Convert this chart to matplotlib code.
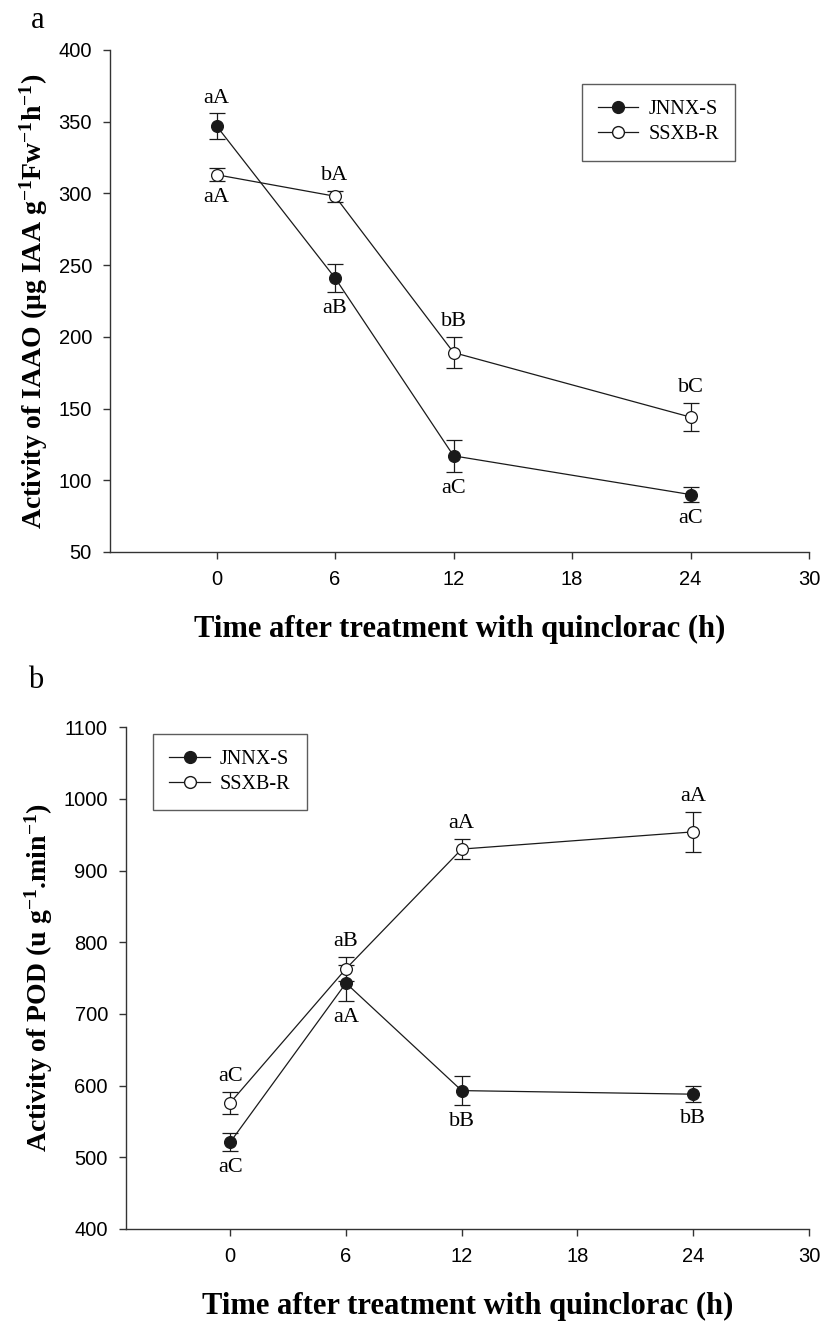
import matplotlib
matplotlib.use('Agg')
import matplotlib.pyplot as plt
from matplotlib.lines import Line2D
import numpy as np

plt.rcParams['mathtext.fontset'] = 'custom'
plt.rcParams['mathtext.rm'] = 'Liberation Serif:bold'
plt.rcParams['mathtext.default'] = 'rm'

# data
hours = [0, 6, 12, 24]
series_names = ['JNNX-S', 'SSXB-R']

iaao_s = [347, 241, 117, 90]
iaao_s_err = [9, 10, 11, 5.5]
iaao_r = [313, 298, 189, 144]
iaao_r_err = [4.5, 4, 11, 10]
iaao_s_lab = ['aA', 'aB', 'aC', 'aC']
iaao_r_lab = ['aA', 'bA', 'bB', 'bC']

pod_s = [521, 743, 593, 588]
pod_s_err = [12.5, 25, 20.5, 11]
pod_r = [576, 763, 930, 954]
pod_r_err = [15, 17, 14, 28]
pod_s_lab = ['aC', 'aA', 'bB', 'bB']
pod_r_lab = ['aC', 'aB', 'aA', 'aA']

xticks = [0, 6, 12, 18, 24, 30]

SERIF = 'Liberation Serif'
SANS = 'Liberation Sans'
LC = '#1a1a1a'


def draw_series(ax, y, err, filled, name):
    ax.errorbar(hours, y, yerr=err, color=LC, lw=0.9, elinewidth=0.9,
                capsize=5.5, capthick=0.9, marker='o', markersize=8.5,
                markerfacecolor=LC if filled else 'white',
                markeredgecolor=LC, markeredgewidth=0.9, zorder=3)


def label_points(ax, y, err, labels, side):
    for xi, yi, ei, t, s in zip(hours, y, err, labels, side):
        if s == 'up':
            ax.annotate(t, xy=(xi, yi + ei), xytext=(0, 4), textcoords='offset points',
                        ha='center', va='bottom', fontsize=16, family=SERIF)
        else:
            ax.annotate(t, xy=(xi, yi - ei), xytext=(0, -5), textcoords='offset points',
                        ha='center', va='top', fontsize=16, family=SERIF)


def add_legend(ax, loc, anchor):
    handles = [Line2D([], [], color=LC, lw=0.9, marker='o', markersize=8.5,
                      markerfacecolor=LC, markeredgecolor=LC),
               Line2D([], [], color=LC, lw=0.9, marker='o', markersize=8.5,
                      markerfacecolor='white', markeredgecolor=LC)]
    leg = ax.legend(handles, series_names, loc=loc, bbox_to_anchor=anchor, frameon=True,
                    fancybox=False, edgecolor='#333333', prop={'family': SERIF, 'size': 14.5},
                    handlelength=2.0, handletextpad=0.5, borderpad=0.8, labelspacing=0.3,
                    borderaxespad=0)
    leg.get_frame().set_linewidth(1.0)


def style_axes(ax, ylim, yticks):
    ax.set_xlim(-5.4, 30)
    ax.set_ylim(*ylim)
    ax.set_xticks(xticks)
    ax.set_yticks(yticks)
    for sp in ['top', 'right']:
        ax.spines[sp].set_visible(False)
    for sp in ['left', 'bottom']:
        ax.spines[sp].set_linewidth(1.0)
        ax.spines[sp].set_color('#333333')
    ax.tick_params(direction='out', length=5, width=1.0, color='#333333',
                   labelsize=14.5, pad=8)
    for lab in ax.get_xticklabels() + ax.get_yticklabels():
        lab.set_family(SANS)
    ax.set_xlabel('Time after treatment with quinclorac (h)', family=SERIF,
                  fontweight='bold', fontsize=22, labelpad=19)


fig = plt.figure(figsize=(8.22, 13.22), dpi=100)

# panel a
ax1 = fig.add_axes([0.1338, 0.5825, 0.8504, 0.3797])
draw_series(ax1, iaao_s, iaao_s_err, True, series_names[0])
draw_series(ax1, iaao_r, iaao_r_err, False, series_names[1])
label_points(ax1, iaao_s, iaao_s_err, iaao_s_lab, ['up', 'down', 'down', 'down'])
label_points(ax1, iaao_r, iaao_r_err, iaao_r_lab, ['down', 'up', 'up', 'up'])
style_axes(ax1, (50, 400), np.arange(50, 401, 50))
ax1.set_ylabel('Activity of IAAO (μg IAA g$^{-1}$Fw$^{-1}$h$^{-1}$)', family=SERIF,
               fontweight='bold', fontsize=20, labelpad=6)
add_legend(ax1, 'upper right', (0.894, 0.932))
fig.text(38 / 822, 1 - 20 / 1322, 'a', family=SERIF, fontsize=22, ha='center', va='center')

# panel b
ax2 = fig.add_axes([0.1533, 0.0704, 0.8309, 0.3795])
draw_series(ax2, pod_s, pod_s_err, True, series_names[0])
draw_series(ax2, pod_r, pod_r_err, False, series_names[1])
label_points(ax2, pod_s, pod_s_err, pod_s_lab, ['down', 'down', 'down', 'down'])
label_points(ax2, pod_r, pod_r_err, pod_r_lab, ['up', 'up', 'up', 'up'])
style_axes(ax2, (400, 1100), np.arange(400, 1101, 100))
ax2.set_ylabel('Activity of POD (u g$^{-1}$.min$^{-1}$)', family=SERIF,
               fontweight='bold', fontsize=20, labelpad=6)
add_legend(ax2, 'upper left', (0.04, 0.9866))
fig.text(36 / 822, 1 - 680 / 1322, 'b', family=SERIF, fontsize=22, ha='center', va='center')

fig.savefig('out.png', dpi=100)
